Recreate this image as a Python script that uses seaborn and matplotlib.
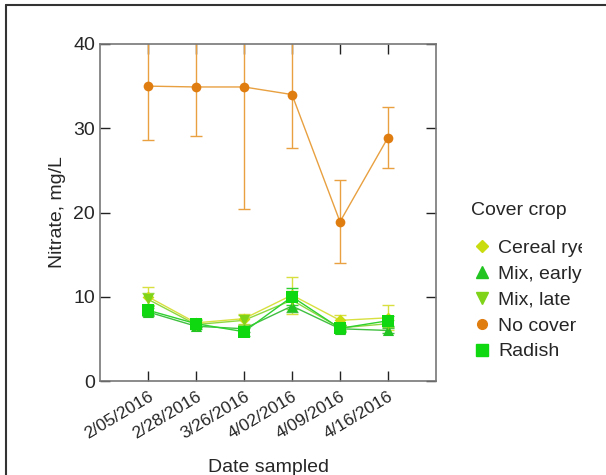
import matplotlib
matplotlib.use("Agg")
import matplotlib.pyplot as plt
import seaborn as sns
import pandas as pd
from matplotlib.transforms import Bbox
from matplotlib.lines import Line2D

dates = ['2/05/2016', '2/28/2016', '3/26/2016', '4/02/2016', '4/09/2016', '4/16/2016']
crops = ['Cereal rye', 'Mix, early', 'Mix, late', 'No cover', 'Radish']

cereal_rye = [10.0, 6.9, 7.4, 10.2, 7.2, 7.5]
cereal_rye_err = [1.1, 0.4, 0.6, 2.2, 0.6, 1.5]
mix_early = [8.2, 6.5, 6.2, 8.9, 6.2, 6.0]
mix_early_err = [0.5, 0.3, 0.4, 0.7, 0.3, 0.3]
mix_late = [9.7, 6.7, 7.2, 9.6, 6.3, 6.8]
mix_late_err = [0.8, 0.3, 0.6, 1.1, 0.3, 0.4]
no_cover = [35.0, 34.9, 34.9, 34.0, 18.9, 28.9]
no_cover_err = [6.4, 5.8, 14.5, 6.4, 4.9, 3.6]
radish = [8.4, 6.8, 5.85, 10.0, 6.25, 7.15]
radish_err = [0.6, 0.4, 0.5, 1.0, 0.4, 0.6]

values = [cereal_rye, mix_early, mix_late, no_cover, radish]
errors = [cereal_rye_err, mix_early_err, mix_late_err, no_cover_err, radish_err]

colors = {'Cereal rye': '#c8dc10', 'Mix, early': '#22c422', 'Mix, late': '#7fd41a',
          'No cover': '#e07d10', 'Radish': '#10d810'}
line_colors = {'Cereal rye': '#d8e040', 'Mix, early': '#40c040', 'Mix, late': '#90d840',
               'No cover': '#e8a040', 'Radish': '#30d030'}
markers = {'Cereal rye': 'D', 'Mix, early': '^', 'Mix, late': 'v', 'No cover': 'o', 'Radish': 's'}
msize = {'Cereal rye': 6, 'Mix, early': 8, 'Mix, late': 8, 'No cover': 7, 'Radish': 8}

rows = []
for c, v, e in zip(crops, values, errors):
    for i, d in enumerate(dates):
        rows.append({'date': d, 'x': i, 'crop': c, 'nitrate': v[i], 'err': e[i]})
df = pd.DataFrame(rows)

sns.set_style("white")
plt.rcParams['font.family'] = ['Liberation Sans', 'DejaVu Sans']

fig = plt.figure(figsize=(6.06, 4.75), dpi=100)
ax = fig.add_axes([100/606, 1-381/475, 336/606, 337/475])

for c in crops:
    sub = df[df.crop == c]
    ax.errorbar(sub.x, sub.nitrate, yerr=sub.err, fmt='none', ecolor=line_colors[c],
                elinewidth=1.0, capsize=4, capthick=1.0, zorder=2)

sns.lineplot(data=df, x='x', y='nitrate', hue='crop', style='crop', hue_order=crops,
             style_order=crops, palette=line_colors, markers=markers, dashes=False,
             linewidth=1.0, markersize=0, ax=ax, legend=False, zorder=3)
for c in crops:
    sub = df[df.crop == c]
    sns.scatterplot(x=sub.x, y=sub.nitrate, marker=markers[c], color=colors[c],
                    s=msize[c]**2, linewidth=0, ax=ax, zorder=4)

ax.set_xlim(-1, 6)
ax.set_ylim(0, 40)
ax.set_xticks(range(len(dates)))
ax.set_xticklabels(dates, rotation=31, ha='right', rotation_mode='anchor', fontsize=12.5)
ax.set_yticks([0, 10, 20, 30, 40])
ax.tick_params(axis='y', labelsize=14)
ax.tick_params(direction='in', length=7, width=1, color='#222222',
               top=True, right=True, left=True, bottom=True)
ax.tick_params(axis='x', pad=6)
for s in ax.spines.values():
    s.set_visible(True)
    s.set_color('#777777')
    s.set_linewidth(1.2)
ax.set_xlabel('Date sampled', fontsize=14)
ax.set_ylabel('Nitrate, mg/L', fontsize=14, labelpad=5)
ax.xaxis.set_label_coords(0.5, -0.232)

handles = [Line2D([], [], linestyle='none', marker=markers[c], color=colors[c],
                  markersize=msize[c]) for c in crops]
leg = fig.legend(handles, crops, title='Cover crop', loc='upper left',
                 bbox_to_anchor=(463/606, 1-194/475), frameon=False, fontsize=14,
                 title_fontsize=14, handletextpad=0.2, labelspacing=0.42,
                 handlelength=1.2, borderaxespad=0)
leg._legend_box.align = 'left'
leg._legend_box.sep = 15
clip = Bbox.from_extents(0, 0, 582, 475)
for t in leg.get_texts():
    t.set_clip_box(clip)
    t.set_clip_on(True)

fig.add_artist(Line2D([6/606, 6/606], [0, 1-5/475], transform=fig.transFigure,
                      color='#333333', linewidth=1.5))
fig.add_artist(Line2D([6/606, 1], [1-5/475, 1-5/475], transform=fig.transFigure,
                      color='#333333', linewidth=1.5))

fig.savefig('out.png', dpi=100)
